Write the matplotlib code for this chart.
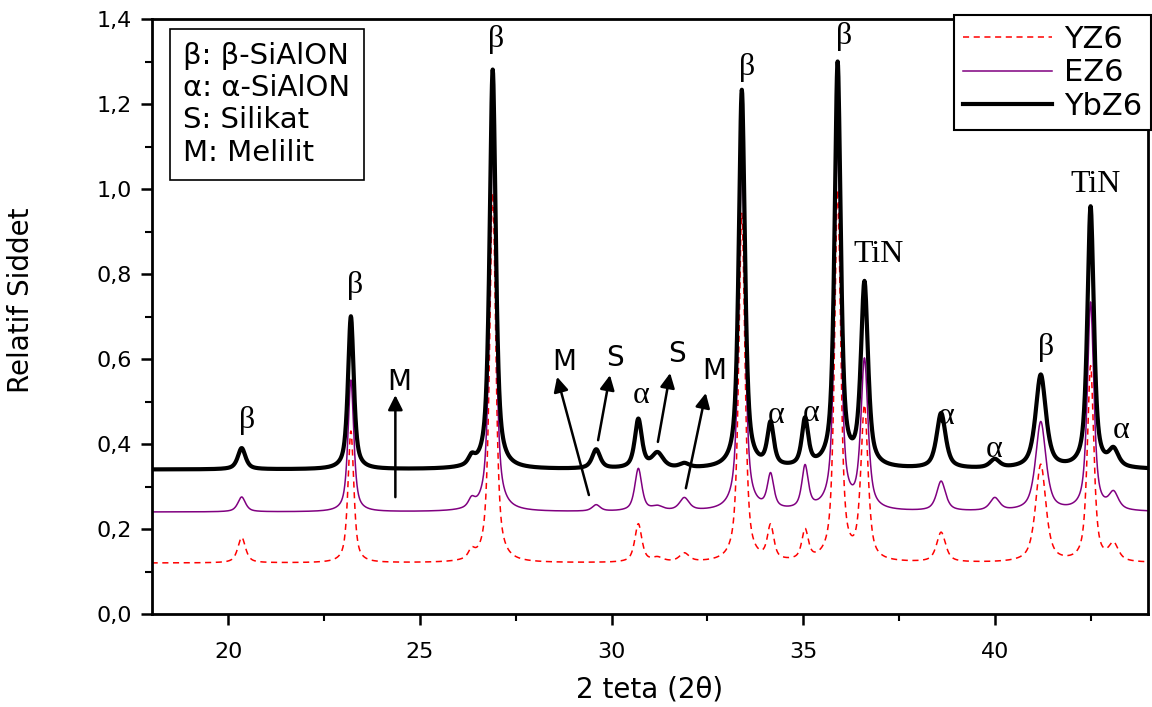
import matplotlib
matplotlib.use("Agg")
import matplotlib.pyplot as plt
import numpy as np
from matplotlib.ticker import MultipleLocator, FuncFormatter

# peak table (2-theta, FWHM)
peak_pos = [20.35, 23.2, 26.35, 26.9, 29.6, 30.7, 31.2, 31.9, 33.4, 34.15,
            35.05, 35.9, 36.6, 38.6, 40.0, 41.2, 42.5, 43.1]
peak_fwhm = [0.24, 0.18, 0.2, 0.19, 0.25, 0.22, 0.35, 0.3, 0.19, 0.2,
             0.2, 0.19, 0.22, 0.28, 0.3, 0.32, 0.2, 0.3]

# baseline and peak heights above baseline for every sample
base_ybz6 = 0.34
amp_ybz6 = [0.05, 0.36, 0.02, 0.94, 0.045, 0.115, 0.035, 0.01, 0.89, 0.10,
            0.11, 0.95, 0.43, 0.13, 0.02, 0.22, 0.615, 0.04]
base_ez6 = 0.24
amp_ez6 = [0.035, 0.31, 0.02, 0.87, 0.015, 0.10, 0.01, 0.03, 0.84, 0.08,
           0.10, 0.88, 0.35, 0.07, 0.03, 0.21, 0.49, 0.04]
base_yz6 = 0.12
amp_yz6 = [0.06, 0.31, 0.02, 0.87, 0.0, 0.09, 0.01, 0.02, 0.82, 0.08,
           0.07, 0.87, 0.36, 0.07, 0.0, 0.23, 0.46, 0.04]

# phase labels: (text, x, y)
labels = [
    ("β", 20.5, 0.456), ("β", 23.3, 0.774), ("β", 27.0, 1.351),
    ("β", 33.53, 1.287), ("β", 36.06, 1.358), ("TiN", 36.97, 0.845),
    ("TiN", 42.62, 1.01), ("β", 41.34, 0.628), ("α", 30.77, 0.515),
    ("α", 34.29, 0.468), ("α", 35.2, 0.473), ("α", 38.74, 0.464),
    ("α", 39.99, 0.386), ("α", 43.3, 0.433),
]
# arrows: (text, text x, text y, tail x, tail y, tip x, tip y)
arrows = [
    ("M", 24.46, 0.546, 24.36, 0.275, 24.36, 0.515),
    ("M", 28.76, 0.593, 29.41, 0.28, 28.58, 0.558),
    ("S", 30.10, 0.602, 29.65, 0.409, 29.96, 0.562),
    ("S", 31.70, 0.611, 31.21, 0.405, 31.53, 0.567),
    ("M", 32.67, 0.571, 31.94, 0.296, 32.46, 0.52),
]


def pattern(x, base, amps):
    y = np.full_like(x, base)
    for p, w, a in zip(peak_pos, peak_fwhm, amps):
        d = (x - p) / w
        lor = 1.0 / (1.0 + 4.0 * d ** 2)
        gau = np.exp(-4.0 * np.log(2) * d ** 2)
        y += a * (0.7 * lor + 0.3 * gau)
    return y


x = np.arange(18.0, 44.0001, 0.01)

fig = plt.figure(figsize=(11.52, 7.07), dpi=100)
ax = fig.add_axes([0.1316, 0.1315, 0.865, 0.8416])

ax.plot(x, pattern(x, base_yz6, amp_yz6), color="red", lw=1.1,
        linestyle=(0, (4, 3)), label="YZ6")
ax.plot(x, pattern(x, base_ez6, amp_ez6), color="#800080", lw=1.1, label="EZ6")
ax.plot(x, pattern(x, base_ybz6, amp_ybz6), color="black", lw=3.0, label="YbZ6")

ax.set_xlim(18, 44)
ax.set_ylim(0, 1.4)
ax.xaxis.set_major_locator(MultipleLocator(5))
ax.xaxis.set_minor_locator(MultipleLocator(2.5))
ax.yaxis.set_major_locator(MultipleLocator(0.2))
ax.yaxis.set_minor_locator(MultipleLocator(0.1))
ax.yaxis.set_major_formatter(FuncFormatter(lambda v, p: f"{v:.1f}".replace(".", ",")))
ax.tick_params(which="major", direction="out", length=8, width=1.8, labelsize=16, pad=6)
ax.tick_params(which="minor", direction="out", length=5, width=1.5)
ax.tick_params(axis="x", pad=12)
for s in ax.spines.values():
    s.set_linewidth(2)

ax.set_xlabel("2 teta (2θ)", fontsize=20, labelpad=10)
ax.set_ylabel("Relatif Siddet", fontsize=20)
ax.yaxis.set_label_coords(-0.117, 0.528)

for txt, tx, ty in labels:
    ax.text(tx, ty, txt, ha="center", va="center", fontsize=23,
            family="Liberation Serif")

for txt, tx, ty, x0, y0, x1, y1 in arrows:
    ax.annotate("", xy=(x1, y1), xytext=(x0, y0),
                arrowprops=dict(arrowstyle="-|>", color="black", lw=1.8,
                                mutation_scale=22, shrinkA=0, shrinkB=0))
    ax.text(tx, ty, txt, ha="center", va="center", fontsize=20)

ax.text(0.032, 0.962, "β: β-SiAlON\nα: α-SiAlON\nS: Silikat\nM: Melilit",
        transform=ax.transAxes, ha="left", va="top", fontsize=21,
        linespacing=1.2,
        bbox=dict(boxstyle="square,pad=0.45", fc="white", ec="black", lw=1.2))

leg = ax.legend(loc="upper right", bbox_to_anchor=(1.003, 1.006),
                borderaxespad=0, fontsize=22, handlelength=2.9,
                labelspacing=0.15, handletextpad=0.4, borderpad=0.3,
                fancybox=False, framealpha=1, edgecolor="black")
leg.get_frame().set_linewidth(1.5)

fig.savefig("out.png", dpi=100)
